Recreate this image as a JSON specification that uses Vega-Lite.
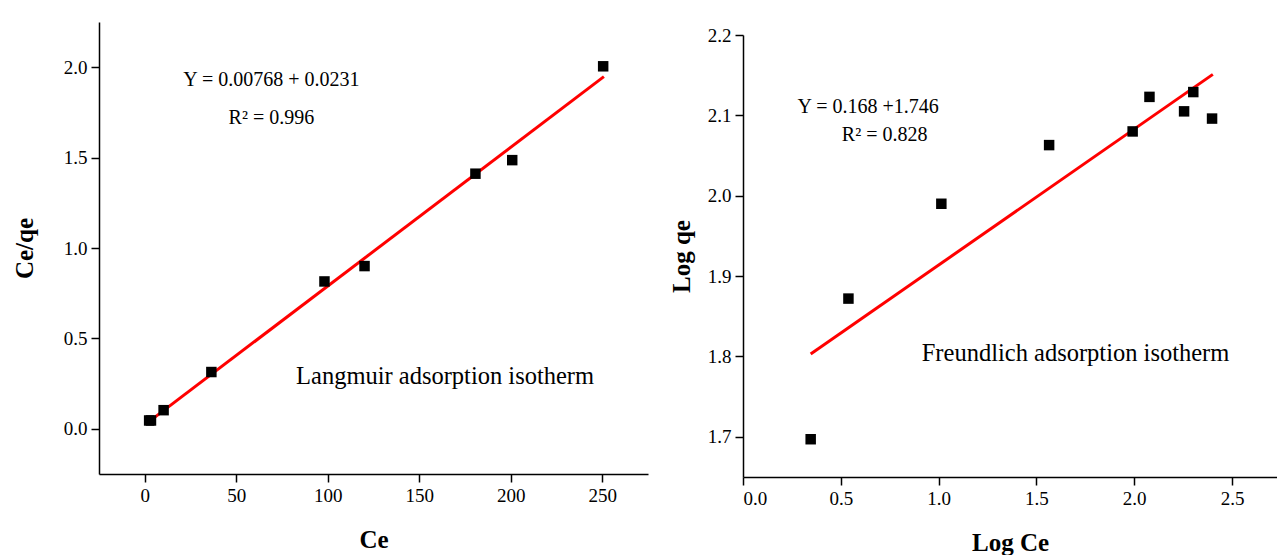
{
  "$schema": "https://vega.github.io/schema/vega-lite/v6.json",
  "background": "white",
  "padding": {"left": 12, "top": 22, "right": 0, "bottom": 0},
  "spacing": 21,
  "config": {
    "font": "Liberation Serif",
    "view": {"stroke": null},
    "axis": {
      "grid": false,
      "domainColor": "black",
      "domainWidth": 1.5,
      "tickColor": "black",
      "tickWidth": 1.5,
      "tickSize": 8,
      "labelColor": "black",
      "labelFont": "Liberation Serif",
      "labelFontSize": 19,
      "labelPadding": 4,
      "titleColor": "black",
      "titleFont": "Liberation Serif",
      "titleFontSize": 25,
      "titleFontWeight": "bold"
    }
  },
  "datasets": {
    "lang_pts": [
      {"x": 2.4, "y": 0.046},
      {"x": 3.4, "y": 0.046},
      {"x": 10.3, "y": 0.103},
      {"x": 36.4, "y": 0.314},
      {"x": 98.2, "y": 0.815},
      {"x": 120.1, "y": 0.9},
      {"x": 180.7, "y": 1.411},
      {"x": 200.8, "y": 1.486},
      {"x": 250.5, "y": 2.005}
    ],
    "lang_fit": [
      {"x": 1.6, "y": 0.034},
      {"x": 250.9, "y": 1.948}
    ],
    "lang_eq": [
      {"x": 69.2, "y": 1.93, "label": "Y = 0.00768 + 0.0231"},
      {"x": 69.2, "y": 1.717, "label": "R² = 0.996"}
    ],
    "lang_name": [
      {"x": 164.1, "y": 0.286, "label": "Langmuir adsorption isotherm"}
    ],
    "fr_pts": [
      {"x": 0.346, "y": 1.697},
      {"x": 0.539, "y": 1.872},
      {"x": 1.014, "y": 1.99},
      {"x": 1.565, "y": 2.063},
      {"x": 1.992, "y": 2.08},
      {"x": 2.078, "y": 2.123},
      {"x": 2.255, "y": 2.105},
      {"x": 2.302, "y": 2.129},
      {"x": 2.398, "y": 2.096}
    ],
    "fr_fit": [
      {"x": 0.346, "y": 1.803},
      {"x": 2.402, "y": 2.151}
    ],
    "fr_eq": [
      {"x": 0.64, "y": 2.11, "label": "Y = 0.168 +1.746"},
      {"x": 0.724, "y": 2.075, "label": "R² = 0.828"}
    ],
    "fr_name": [
      {"x": 1.7, "y": 1.8035, "label": "Freundlich adsorption isotherm"}
    ],
    "empty": []
  },
  "hconcat": [
    {
      "width": 549,
      "height": 452,
      "encoding": {
        "x": {"field": "x", "type": "quantitative", "scale": {"domain": [-25, 275], "nice": false, "zero": false}, "axis": {"title": "Ce", "values": [0, 50, 100, 150, 200, 250], "labelFont": "Liberation Serif", "titlePadding": 22}},
        "y": {"field": "y", "type": "quantitative", "scale": {"domain": [-0.25, 2.25], "nice": false, "zero": false}, "axis": {"title": "Ce/qe", "values": [0, 0.5, 1, 1.5, 2], "format": ".1f", "labelFont": "Liberation Serif", "titlePadding": 26}}
      },
      "layer": [
        {"data": {"name": "lang_fit"}, "mark": {"type": "line", "color": "#ff0000", "strokeWidth": 3}},
        {"data": {"name": "lang_pts"}, "mark": {"type": "point", "shape": "square", "filled": true, "color": "black", "opacity": 1, "size": 110}},
        {"data": {"name": "lang_eq"}, "mark": {"type": "text", "fontSize": 20, "align": "center", "baseline": "middle", "color": "black"}, "encoding": {"text": {"field": "label"}}},
        {"data": {"name": "lang_name"}, "mark": {"type": "text", "fontSize": 24.5, "align": "center", "baseline": "middle", "color": "black"}, "encoding": {"text": {"field": "label"}}}
      ]
    },
    {
      "spacing": 0,
      "vconcat": [
        {
          "width": 534,
          "height": 4,
          "data": {"name": "empty"},
          "mark": {"type": "point", "opacity": 0}
        },
        {
          "width": 534,
          "height": 442,
          "encoding": {
            "x": {"field": "x", "type": "quantitative", "scale": {"domain": [0, 2.73], "nice": false, "zero": false}, "axis": {"title": "Log Ce", "values": [0, 0.5, 1, 1.5, 2, 2.5], "format": ".1f", "labelFont": "Liberation Serif", "titlePadding": 22}},
            "y": {"field": "y", "type": "quantitative", "scale": {"domain": [1.65, 2.2], "nice": false, "zero": false}, "axis": {"title": "Log qe", "values": [1.7, 1.8, 1.9, 2.0, 2.1, 2.2], "format": ".1f", "labelFont": "Liberation Serif", "titlePadding": 13}}
          },
          "layer": [
            {"data": {"name": "fr_fit"}, "mark": {"type": "line", "color": "#ff0000", "strokeWidth": 3}},
            {"data": {"name": "fr_pts"}, "mark": {"type": "point", "shape": "square", "filled": true, "color": "black", "opacity": 1, "size": 110}},
            {"data": {"name": "fr_eq"}, "mark": {"type": "text", "fontSize": 20, "align": "center", "baseline": "middle", "color": "black"}, "encoding": {"text": {"field": "label"}}},
            {"data": {"name": "fr_name"}, "mark": {"type": "text", "fontSize": 24.5, "align": "center", "baseline": "middle", "color": "black"}, "encoding": {"text": {"field": "label"}}}
          ]
        }
      ]
    }
  ]
}
